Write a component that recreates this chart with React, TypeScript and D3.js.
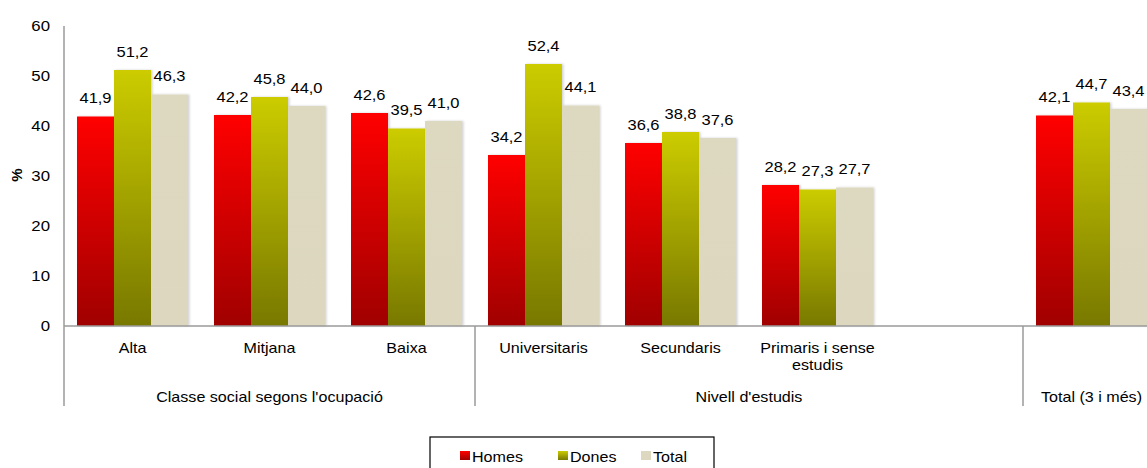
import React from "react";
import * as d3 from "d3";

const categories = ["Alta", "Mitjana", "Baixa", "Universitaris", "Secundaris", "Primaris i sense estudis", "", "Total (3 i més)"];
const homes: (number | null)[] = [41.9, 42.2, 42.6, 34.2, 36.6, 28.2, null, 42.1];
const dones: (number | null)[] = [51.2, 45.8, 39.5, 52.4, 38.8, 27.3, null, 44.7];
const total: (number | null)[] = [46.3, 44.0, 41.0, 44.1, 37.6, 27.7, null, 43.4];
const seriesNames = ["Homes", "Dones", "Total"];
const groups = [
  { label: "Classe social segons l'ocupació", from: 0, to: 2 },
  { label: "Nivell d'estudis", from: 3, to: 6 },
  { label: "Total (3 i més)", from: 7, to: 7 },
];
const yTicks = [0, 10, 20, 30, 40, 50, 60];

const W = 1147;
const H = 468;
const FONT = "'Liberation Sans', Arial, sans-serif";
const SX = 1.15;

const fmt = (v: number) => v.toFixed(1).replace(".", ",");

function T({ x, y, size = 14, anchor = "middle", sx = SX, children, weight }: any) {
  return (
    <text
      transform={`translate(${x},${y}) scale(${sx},1)`}
      fontSize={size}
      textAnchor={anchor}
      fontFamily={FONT}
      fill="#000"
      fontWeight={weight}
    >
      {children}
    </text>
  );
}

export default function App() {
  const x0 = 64;
  const bandW = 137;
  const x = d3
    .scaleBand<number>()
    .domain(d3.range(categories.length))
    .range([x0, x0 + bandW * categories.length])
    .paddingInner(0)
    .paddingOuter(0);
  const y = d3.scaleLinear().domain([0, 60]).range([326, 26]);
  const inner = d3
    .scaleBand<number>()
    .domain([0, 1, 2])
    .range([13, bandW - 13]);
  const series = [homes, dones, total];
  const fills = ["url(#gRed)", "url(#gGreen)", "url(#gBeige)"];
  const axisColor = "#9a9a9a";
  const sepX = [x0, x(3)!, x(7)!];

  return (
    <svg width={W} height={H} style={{ position: "absolute", left: 0, top: 0, background: "#fff" }}>
      <defs>
        <linearGradient id="gRed" x1="0" y1="0" x2="0" y2="1">
          <stop offset="0" stopColor="#ff0000" />
          <stop offset="1" stopColor="#a00000" />
        </linearGradient>
        <linearGradient id="gGreen" x1="0" y1="0" x2="0" y2="1">
          <stop offset="0" stopColor="#cccc00" />
          <stop offset="1" stopColor="#787800" />
        </linearGradient>
        <linearGradient id="gBeige" x1="0" y1="0" x2="0" y2="1">
          <stop offset="0" stopColor="#ddd8c0" />
          <stop offset="1" stopColor="#ddd7bf" />
        </linearGradient>
        <filter id="shadow" x="-10%" y="-10%" width="130%" height="130%">
          <feDropShadow dx="1.5" dy="0" stdDeviation="1" floodColor="#000" floodOpacity="0.18" />
        </filter>
      </defs>

      {/* bars */}
      {categories.map((c, i) =>
        series.map((s, k) => {
          const v = s[i];
          if (v == null) return null;
          const bx = x(i)! + inner(k)!;
          return (
            <rect
              key={`${i}-${k}`}
              x={bx}
              y={y(v)}
              width={inner.bandwidth()}
              height={y(0) - y(v)}
              fill={fills[k]}
              filter="url(#shadow)"
            />
          );
        })
      )}

      {/* axes */}
      <line x1={x0} x2={W} y1={y(0)} y2={y(0)} stroke={axisColor} strokeWidth={1.5} />
      <line x1={x0} x2={x0} y1={y(60)} y2={406} stroke={axisColor} strokeWidth={1.5} />
      {sepX.slice(1).map((sx, i) => (
        <line key={i} x1={sx} x2={sx} y1={y(0)} y2={406} stroke={axisColor} strokeWidth={1.5} />
      ))}

      {/* y ticks */}
      {yTicks.map((t) => (
        <T key={t} x={50} y={y(t) + 5} anchor="end" size={14} sx={1.2}>
          {t}
        </T>
      ))}
      <text
        transform={`translate(22,175) rotate(-90)`}
        fontSize={15}
        fontWeight="bold"
        textAnchor="middle"
        fontFamily={FONT}
      >
        %
      </text>

      {/* value labels */}
      {categories.map((c, i) =>
        series.map((s, k) => {
          const v = s[i];
          if (v == null) return null;
          const cx = x(i)! + inner(k)! + inner.bandwidth() / 2;
          return (
            <T key={`l${i}-${k}`} x={cx} y={y(v) - 13.5} size={15} sx={1.1}>
              {fmt(v)}
            </T>
          );
        })
      )}

      {/* category labels */}
      {categories.map((c, i) => {
        if (!c || i === 7) return null;
        const cx = x(i)! + bandW / 2;
        if (c === "Primaris i sense estudis") {
          return (
            <g key={c}>
              <T x={cx} y={353}>Primaris i sense</T>
              <T x={cx} y={370}>estudis</T>
            </g>
          );
        }
        return (
          <T key={c} x={cx} y={353}>
            {c}
          </T>
        );
      })}

      {/* group labels */}
      {groups.map((g) => {
        const cx = (x(g.from)! + x(g.to)! + bandW) / 2;
        return (
          <T key={g.label} x={cx} y={402}>
            {g.label}
          </T>
        );
      })}

      {/* legend */}
      <rect x={430} y={437} width={284} height={40} fill="#fff" stroke="#000" strokeWidth={1.2} />
      {seriesNames.map((n, k) => {
        const lx = [460, 558, 641][k];
        return (
          <g key={n}>
            <rect x={lx} y={451} width={10} height={9} fill={fills[k]} />
            <T x={lx + 12} y={461.5} anchor="start">
              {n}
            </T>
          </g>
        );
      })}
    </svg>
  );
}
